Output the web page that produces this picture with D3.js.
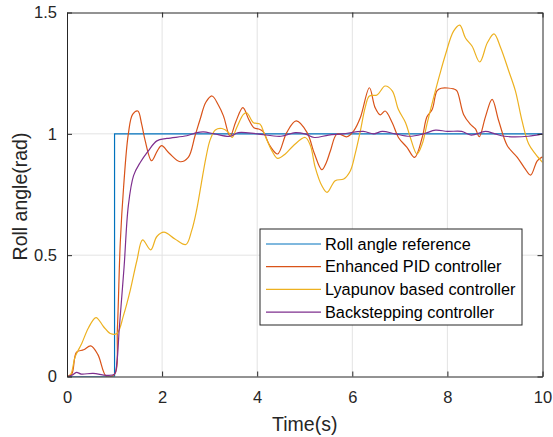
<!DOCTYPE html>
<meta charset="utf-8">
<style>
body { margin: 0; background: #fff; font-family: "Liberation Sans", Arial, sans-serif; }
.grid line { stroke: #e3e3e3; stroke-width: 1; }
.axis text { font-size: 16.5px; fill: #262626; }
.axis path, .axis line { stroke: #262626; }
</style>
<body>
<script src="https://cdn.jsdelivr.net/npm/d3@7"></script>
<script>

var width = 553,
    height = 437,
    margin = {top: 12.5, right: 10.5, bottom: 60.5, left: 67};

var xTicks = [0, 2, 4, 6, 8, 10];
var yTicks = [0, 0.5, 1, 1.5];

var seriesNames = ["Roll angle reference", "Enhanced PID controller", "Lyapunov based controller", "Backstepping controller"];
var seriesColors = ["#0072BD", "#D95319", "#EDB120", "#7E2F8E"];

var refT = [0, 1, 1, 10];
var refY = [0, 0, 1, 1];

var pidT = [0, 0.1, 0.2, 0.35, 0.5, 0.65, 0.83, 1.0, 1.06, 1.12, 1.19, 1.29, 1.38, 1.49, 1.57, 1.64, 1.78, 1.9, 1.99, 2.15, 2.38, 2.55, 2.69, 2.8, 2.92, 3.05, 3.18, 3.29, 3.43, 3.55, 3.7, 3.82, 3.93, 4.03, 4.12, 4.27, 4.43, 4.62, 4.82, 5.05, 5.2, 5.36, 5.45, 5.54, 5.68, 5.89, 6.03, 6.17, 6.36, 6.48, 6.59, 6.69, 6.84, 6.97, 7.15, 7.31, 7.47, 7.57, 7.68, 7.78, 7.87, 8.13, 8.2, 8.34, 8.48, 8.59, 8.67, 8.8, 8.94, 9.08, 9.26, 9.47, 9.62, 9.75, 9.89, 10];
var pidY = [0, 0.01, 0.1, 0.11, 0.126, 0.09, 0, 0.01, 0.2, 0.55, 0.78, 1.0, 1.08, 1.094, 1.04, 0.975, 0.889, 0.93, 0.951, 0.92, 0.885, 0.903, 0.99, 1.06, 1.13, 1.156, 1.12, 1.074, 0.99, 1.05, 1.108, 1.06, 1.025, 1.02, 1.01, 0.95, 0.917, 1.005, 1.053, 1.005, 0.92, 0.852, 0.88, 0.93, 0.999, 0.988, 1.012, 1.067, 1.19, 1.108, 1.078, 1.094, 1.046, 0.985, 0.944, 0.903, 0.985, 1.07, 1.1, 1.177, 1.188, 1.185, 1.177, 1.08, 1.04, 1.02, 0.988, 1.07, 1.142, 1.053, 0.951, 0.903, 0.86, 0.83, 0.889, 0.905];

var lyaT = [0, 0.08, 0.17, 0.31, 0.45, 0.61, 0.77, 0.91, 1.05, 1.19, 1.33, 1.47, 1.59, 1.76, 1.89, 2.04, 2.27, 2.5, 2.62, 2.72, 2.82, 2.92, 3.01, 3.12, 3.26, 3.4, 3.47, 3.57, 3.71, 3.78, 3.92, 4.06, 4.15, 4.31, 4.43, 4.59, 4.76, 5.01, 5.12, 5.22, 5.36, 5.47, 5.64, 5.82, 5.96, 6.06, 6.17, 6.27, 6.36, 6.52, 6.69, 6.84, 6.97, 7.12, 7.22, 7.36, 7.47, 7.57, 7.71, 7.84, 7.96, 8.13, 8.26, 8.38, 8.52, 8.68, 8.84, 8.98, 9.12, 9.29, 9.43, 9.57, 9.71, 9.85, 10];
var lyaY = [0, 0.01, 0.081, 0.136, 0.2, 0.243, 0.205, 0.177, 0.177, 0.253, 0.355, 0.478, 0.563, 0.522, 0.577, 0.595, 0.567, 0.544, 0.6, 0.68, 0.79, 0.9, 0.975, 1.016, 1.022, 1.005, 0.985, 1.026, 1.08, 1.087, 1.046, 1.04, 1.0, 0.93, 0.899, 0.917, 0.951, 0.985, 0.951, 0.862, 0.786, 0.759, 0.807, 0.814, 0.848, 0.917, 1.012, 1.108, 1.156, 1.16, 1.197, 1.177, 1.1, 1.046, 0.985, 0.917, 0.958, 1.04, 1.149, 1.245, 1.327, 1.423, 1.448, 1.395, 1.361, 1.296, 1.375, 1.412, 1.355, 1.259, 1.177, 1.053, 0.958, 0.917, 0.882];

var bsT = [0, 0.1, 0.2, 0.3, 0.55, 0.83, 1.0, 1.05, 1.1, 1.2, 1.29, 1.4, 1.54, 1.71, 1.89, 2.1, 2.52, 2.73, 2.87, 3.1, 3.43, 3.6, 4.0, 4.5, 4.8, 5.0, 5.2, 5.5, 5.8, 6.23, 6.45, 6.63, 6.9, 7.2, 7.5, 7.75, 8.0, 8.3, 8.5, 8.8, 9.0, 9.2, 9.7, 10];
var bsY = [0, 0.005, 0.017, 0.01, 0.013, 0.005, 0.01, 0.06, 0.2, 0.45, 0.704, 0.828, 0.882, 0.93, 0.971, 0.981, 0.992, 1.005, 1.008, 1.0, 0.99, 1.005, 1.0, 0.99, 1.005, 1.0, 0.985, 0.995, 1.0, 1.01, 1.0, 1.01, 1.0, 0.99, 1.0, 1.015, 1.01, 1.01, 0.995, 1.01, 1.0, 0.99, 0.99, 1.0];

function zip(t, v) { return t.map(function(d, i) { return [d, v[i]]; }); }

var series = [zip(refT, refY), zip(pidT, pidY), zip(lyaT, lyaY), zip(bsT, bsY)];

var iw = width - margin.left - margin.right,
    ih = height - margin.top - margin.bottom;

var x = d3.scaleLinear().domain([0, 10]).range([0, iw]);
var y = d3.scaleLinear().domain([0, 1.5]).range([ih, 0]);

var svg = d3.select("body").append("svg")
    .attr("width", width)
    .attr("height", height)
  .append("g")
    .attr("transform", "translate(" + margin.left + "," + margin.top + ")");

svg.append("rect")
    .attr("width", iw).attr("height", ih)
    .attr("fill", "#fff");

var grid = svg.append("g").attr("class", "grid");
grid.selectAll(".gx")
    .data(xTicks.slice(1, -1))
  .enter().append("line")
    .attr("x1", x).attr("x2", x)
    .attr("y1", 0).attr("y2", ih);
grid.selectAll(".gy")
    .data(yTicks.slice(1, -1))
  .enter().append("line")
    .attr("y1", y).attr("y2", y)
    .attr("x1", 0).attr("x2", iw);

var clip = svg.append("clipPath").attr("id", "clip")
  .append("rect").attr("width", iw).attr("height", ih);

var smooth = d3.line()
    .x(function(d) { return x(d[0]); })
    .y(function(d) { return y(d[1]); })
    .curve(d3.curveCatmullRom.alpha(0.5));

var straight = d3.line()
    .x(function(d) { return x(d[0]); })
    .y(function(d) { return y(d[1]); });

var drawOrder = [0, 1, 2, 3];
svg.append("g").attr("clip-path", "url(#clip)")
  .selectAll(".series")
    .data(drawOrder)
  .enter().append("path")
    .attr("fill", "none")
    .attr("stroke", function(i) { return seriesColors[i]; })
    .attr("stroke-width", 1.2)
    .attr("d", function(i) { return i === 0 ? straight(series[i]) : smooth(series[i]); });

// axes, ticks on all four sides, pointing inward
var fmt = function(d) { return d3.format("")(d); };

svg.append("g").attr("class", "axis")
    .attr("transform", "translate(0," + ih + ")")
    .call(d3.axisBottom(x).tickValues(xTicks).tickSizeInner(-5).tickSizeOuter(0).tickPadding(15).tickFormat(fmt));
svg.append("g").attr("class", "axis")
    .call(d3.axisTop(x).tickValues(xTicks).tickSizeInner(-5).tickSizeOuter(0).tickFormat(""));
svg.append("g").attr("class", "axis")
    .call(d3.axisLeft(y).tickValues(yTicks).tickSizeInner(-5).tickSizeOuter(0).tickPadding(10).tickFormat(fmt));
svg.append("g").attr("class", "axis")
    .attr("transform", "translate(" + iw + ",0)")
    .call(d3.axisRight(y).tickValues(yTicks).tickSizeInner(-5).tickSizeOuter(0).tickFormat(""));

svg.selectAll(".axis .domain").attr("stroke-width", 1);

svg.append("text")
    .attr("x", iw / 2)
    .attr("y", ih + 54)
    .attr("text-anchor", "middle")
    .attr("font-size", "19.5px")
    .attr("fill", "#262626")
    .text("Time(s)");

svg.append("text")
    .attr("transform", "translate(-40," + (ih / 2 + 2) + ") rotate(-90)")
    .attr("text-anchor", "middle")
    .attr("font-size", "19.5px")
    .attr("fill", "#262626")
    .text("Roll angle(rad)");

// legend
var legend = svg.append("g")
    .attr("transform", "translate(" + (260 - margin.left) + "," + (229 - margin.top) + ")");

legend.append("rect")
    .attr("width", 262).attr("height", 96)
    .attr("fill", "#fff")
    .attr("stroke", "#262626")
    .attr("stroke-width", 1);

var items = legend.selectAll(".item")
    .data(seriesNames)
  .enter().append("g")
    .attr("transform", function(d, i) { return "translate(0," + (15 + i * 22.7) + ")"; });

items.append("line")
    .attr("x1", 6).attr("x2", 61)
    .attr("stroke", function(d, i) { return seriesColors[i]; })
    .attr("stroke-width", 1.2);

items.append("text")
    .attr("x", 65)
    .attr("dy", "0.35em")
    .attr("font-size", "16.3px")
    .attr("fill", "#000")
    .text(function(d) { return d; });

</script>
